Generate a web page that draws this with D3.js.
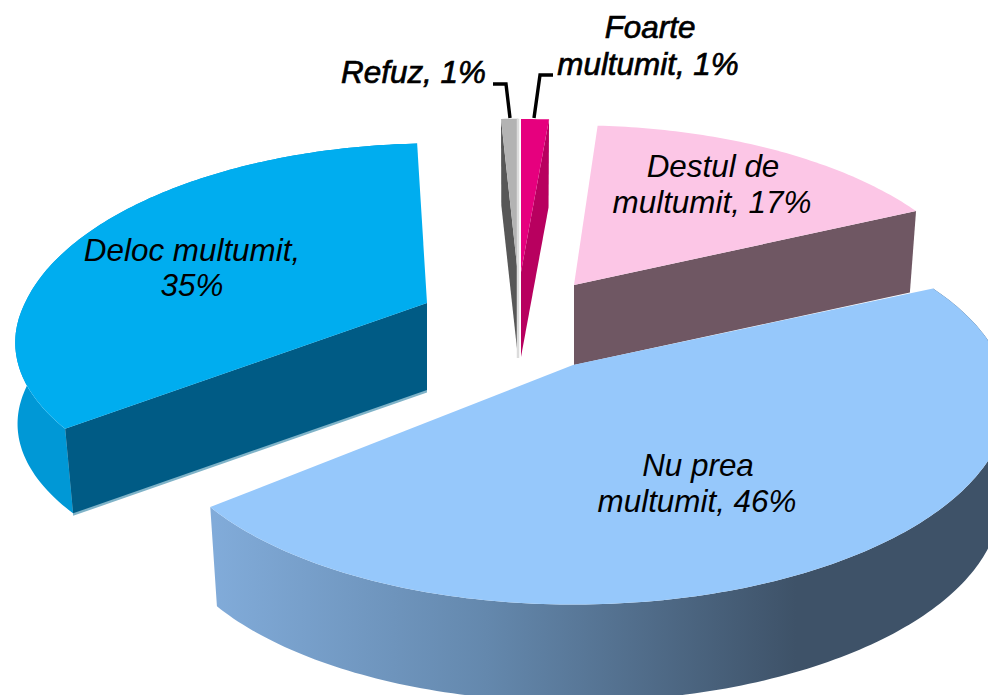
<!DOCTYPE html>
<html><head><meta charset="utf-8">
<script src="https://cdn.jsdelivr.net/npm/d3@7/dist/d3.min.js"></script>
<style>html,body{margin:0;padding:0;background:#fff;overflow:hidden}svg{display:block}
text{font-family:"Liberation Sans",Arial,sans-serif;font-style:italic;fill:#000;text-anchor:middle}</style>
</head><body><svg id="c" width="988" height="695"></svg>
<script>
// Data (clockwise from 12 o'clock). Labels print the rounded percentage.
const categories = ["Foarte multumit", "Destul de multumit", "Nu prea multumit", "Deloc multumit", "Refuz"];
const values = [1.1, 17, 46, 35, 0.9];
const shownValues = [1, 17, 46, 35, 1];

// Layout of the exploded, perspective pie
const perspective = 0.19;
const layout = {
  "Foarte multumit":    {x:521,y:272,rx:483,ry:182,h:85, top:"#e6007e",edge:"#b8005f"},
  "Destul de multumit": {x:574,y:285,rx:407,ry:190,h:80, top:"#fcc6e6",edge:"#6f5763"},
  "Nu prea multumit":   {x:573,y:365,rx:420,ry:190,ryNear:194,h:102,ox:7,sy:3,top:"#96c8fb",outer:"url(#wallGrad)"},
  "Deloc multumit":     {x:427,y:303,rx:402,ry:190,ryNear:175,sx:11,bsx:0,bs:1,h:87, top:"#00adef",edge:"#005b85",outer:"#0098d6",under:"#7fb3c8"},
  "Refuz":              {x:518,y:275,rx:358,ry:186,h:83, top:"#b3b3b3",startEdge:"#575757",strip:"#dcdcdc"}
};

const svg = d3.select("#c");
const grad = svg.append("defs").append("linearGradient").attr("id","wallGrad")
  .attr("gradientUnits","userSpaceOnUse").attr("x1",215).attr("x2",990).attr("y1",0).attr("y2",0);
[[0,"#81abd9"],[0.35,"#6488ad"],[0.75,"#3e5268"],[1,"#3e5268"]]
  .forEach(s=>grad.append("stop").attr("offset",s[0]).attr("stop-color",s[1]));

const pie = d3.pie().sort(null).value(d=>d.v);
const arcs = pie(categories.map((c,i)=>({c,v:values[i]})));
const line = d3.line();

function project(L,t,r,xScale,yScale,sx,dy){
  const u=r*Math.sin(t), v=r*Math.cos(t), w=1+perspective*v;
  const ry=(v<0&&L.ryNear)?L.ryNear:L.ry;
  return [L.x+(xScale*L.rx*u+sx*v)/w+(L.ox||0)*r,
          L.y+dy-(yScale*ry*v+(L.sy||0)*u)/w];
}
function topPt(L,t,r=1){ return project(L,t,r,1,1,L.sx||0,0); }
function bottomPt(L,t,r=1,extra=0){
  return project(L,t,r,L.bs||0.982,0.98,L.bsx!==undefined?L.bsx:(L.sx||0),L.h+extra);
}
function arcAngles(a){
  const n=Math.max(4,Math.ceil((a.endAngle-a.startAngle)*60));
  return d3.range(n+1).map(i=>a.startAngle+(a.endAngle-a.startAngle)*i/n);
}
function closed(pts){return line(pts)+"Z";}
function edgeWall(L,t,extra=0){
  return closed([topPt(L,t,0),topPt(L,t),bottomPt(L,t,1,extra),bottomPt(L,t,0,extra)]);
}

// paint order: back slices first, Nu prea over Destul
const order = ["Deloc multumit","Destul de multumit","Nu prea multumit","Refuz","Foarte multumit"];
const g = svg.append("g");
order.forEach(name=>{
  const a = arcs.find(d=>d.data.c===name), L = layout[name], ts = arcAngles(a);
  if(L.under) g.append("path").attr("d",edgeWall(L,a.startAngle,2.5)).attr("fill",L.under);
  if(L.outer) g.append("path")
    .attr("d",closed(ts.map(t=>topPt(L,t)).concat(ts.map(t=>bottomPt(L,t)).reverse())))
    .attr("fill",L.outer);
  if(L.edge){
    const t = name==="Deloc multumit" ? a.startAngle : a.endAngle;
    g.append("path").attr("d",edgeWall(L,t)).attr("fill",L.edge);
  }
  if(L.startEdge) g.append("path").attr("d",edgeWall(L,a.startAngle)).attr("fill",L.startEdge);
  g.append("path")
    .attr("d",closed([topPt(L,0,0)].concat(ts.map(t=>topPt(L,t)))))
    .attr("fill",L.top);
  if(L.strip) g.append("path")
    .attr("d",line([topPt(L,a.endAngle),bottomPt(L,a.endAngle,0)]))
    .attr("stroke",L.strip).attr("stroke-width",2.5).attr("fill","none");
});

// Leader lines
const leaders = [[[493,84],[506,84],[510,118]],[[553,75],[540,75],[534,118]]];
leaders.forEach(p=>svg.append("path").attr("d",line(p)).attr("fill","none")
  .attr("stroke","#000").attr("stroke-width",3.4));

// Labels
const pct = i=>shownValues[i]+"%";
const labels = [
  {t:"Foarte",x:650,y:38,b:1},
  {t:`multumit, ${pct(0)}`,x:648,y:75,b:1},
  {t:`Refuz, ${pct(4)}`,x:413.5,y:83,b:1},
  {t:"Destul de",x:713,y:177},
  {t:`multumit, ${pct(1)}`,x:712,y:213},
  {t:"Nu prea",x:698,y:476},
  {t:`multumit, ${pct(2)}`,x:697,y:512},
  {t:"Deloc multumit,",x:192,y:261},
  {t:pct(3),x:192,y:296}
];
labels.forEach(l=>svg.append("text").attr("x",l.x).attr("y",l.y).attr("font-size",31.4)
  .attr("stroke",l.b?"#000":"none").attr("stroke-width",l.b?0.7:0).text(l.t));
</script></body></html>
